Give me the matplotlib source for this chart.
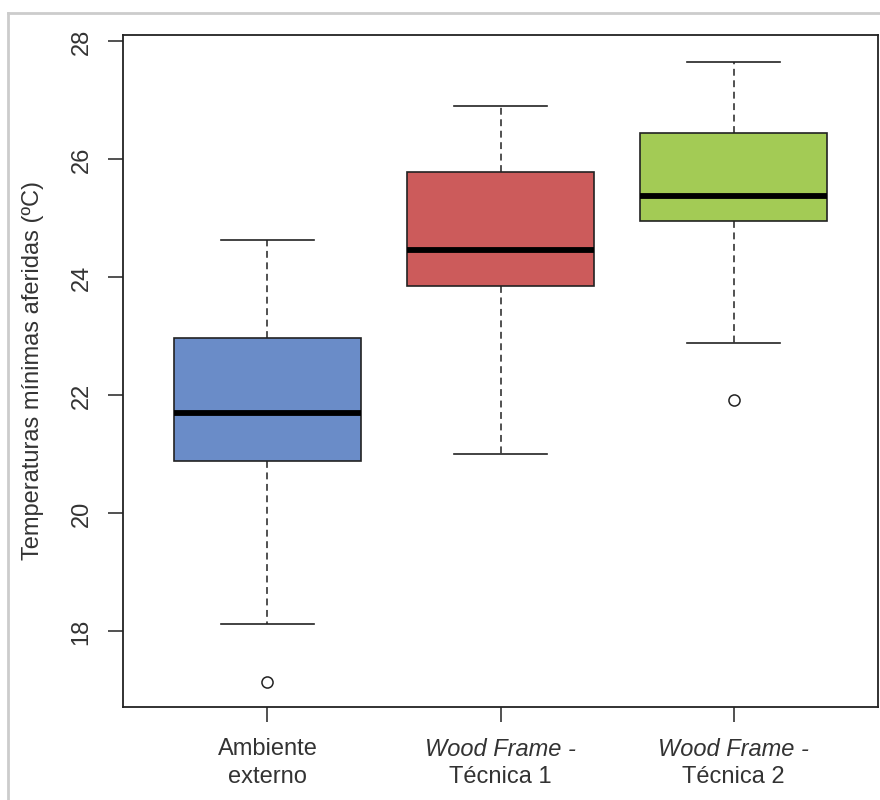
import matplotlib
matplotlib.use("Agg")
import matplotlib.pyplot as plt
from matplotlib.lines import Line2D

plt.rcParams['font.family'] = ['Liberation Sans', 'DejaVu Sans']

# Data
categories_top = ["Ambiente", "Wood Frame -", "Wood Frame -"]
categories_bottom = ["externo", "Técnica 1", "Técnica 2"]
top_italic = [False, True, True]
whisker_low = [18.12, 21.00, 22.89]
q1 = [20.89, 23.86, 24.95]
median = [21.71, 24.46, 25.38]
q3 = [22.97, 25.79, 26.45]
whisker_high = [24.64, 26.90, 27.66]
outliers = [[17.15], [], [21.92]]
colors = ["#6A8CC8", "#CC5B5B", "#A3CB55"]
yticks = [18, 20, 22, 24, 26, 28]
ylabel = "Temperaturas mínimas aferidas (ºC)"

fig = plt.figure(figsize=(8.8, 8.0), dpi=100)
ax = fig.add_axes([123/880, 93/800, (878-123)/880, (707-35)/800])

stats = []
for i in range(len(median)):
    stats.append(dict(whislo=whisker_low[i], q1=q1[i], med=median[i],
                      q3=q3[i], whishi=whisker_high[i], fliers=outliers[i]))

positions = list(range(1, len(stats) + 1))
bp = ax.bxp(stats, positions=positions, widths=0.8, patch_artist=True,
            showfliers=True,
            boxprops=dict(edgecolor="#222222", linewidth=1.2),
            medianprops=dict(color="black", linewidth=4.2, solid_capstyle="butt"),
            whiskerprops=dict(color="#222222", linewidth=1.1, linestyle=(0, (4.5, 3))),
            capprops=dict(color="#222222", linewidth=1.2),
            flierprops=dict(marker="o", markersize=8, markerfacecolor="none",
                            markeredgecolor="#222222", markeredgewidth=1.1))
for patch, c in zip(bp["boxes"], colors):
    patch.set_facecolor(c)
for cap in bp["caps"]:
    xs = cap.get_xdata()
    cx = (xs[0] + xs[1]) / 2
    cap.set_xdata([cx - 0.2, cx + 0.2])

ax.set_xlim(0.38, 3.62)
ax.set_ylim(16.72, 28.11)
ax.set_yticks(yticks)
ax.set_yticklabels([str(t) for t in yticks], rotation=90, va="center",
                   fontsize=17, color="#333333")
ax.set_xticks(positions)
ax.set_xticklabels([""] * len(positions))
ax.tick_params(axis="both", length=11, width=1.1, color="#222222")
ax.tick_params(axis="y", pad=11)

for sp in ax.spines.values():
    sp.set_color("#222222")
    sp.set_linewidth(1.3)

ax.set_ylabel(ylabel, fontsize=17, color="#333333", labelpad=19)

for i, p in enumerate(positions):
    ax.annotate(categories_top[i], xy=(p, 0), xycoords=("data", "axes fraction"),
                xytext=(0, -42), textcoords="offset pixels", ha="center", va="center",
                fontsize=17, color="#333333",
                style="italic" if top_italic[i] else "normal")
    ax.annotate(categories_bottom[i], xy=(p, 0), xycoords=("data", "axes fraction"),
                xytext=(0, -70), textcoords="offset pixels", ha="center", va="center",
                fontsize=17, color="#333333")

# light gray frame of the screenshot
fig.add_artist(Line2D([8/880, 8/880], [0, 1 - 13/800], transform=fig.transFigure,
                      color="#cccccc", linewidth=2))
fig.add_artist(Line2D([8/880, 1], [1 - 13/800, 1 - 13/800], transform=fig.transFigure,
                      color="#cccccc", linewidth=2))

fig.savefig("out.png", dpi=100, facecolor="white")
